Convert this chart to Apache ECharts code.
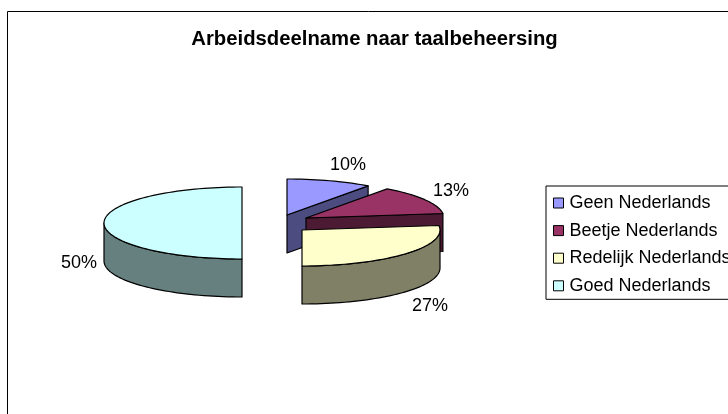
<!DOCTYPE html>
<html>
<head>
<meta charset="utf-8">
<style>html,body{margin:0;padding:0;background:#fff}#c{width:728px;height:414px}</style>
<script src="https://cdn.jsdelivr.net/npm/echarts@6/dist/echarts.min.js"></script>
</head>
<body>
<div id="c"></div>
<script>
const titleText = 'Arbeidsdeelname naar taalbeheersing';
const categories = ['Geen Nederlands', 'Beetje Nederlands', 'Redelijk Nederlands', 'Goed Nederlands'];
const shares = [10, 13, 27, 50];
const topColors = ['#9999FF', '#993366', '#FFFFCC', '#CCFFFF'];
const sideColors = ['#4C4C80', '#4D1A33', '#808066', '#668080'];

// Layout of the exploded 3D pie: centres of each slice, ellipse radii, wall depth, label anchors.
const sliceCentres = [[287, 215], [306, 218], [302, 230], [242, 223]];
const labelAnchors = [[348, 165], [451, 191], [430, 306], [79, 263]];
const RX = 138, RY = 36, DEPTH = 38;
const FONT = '"Liberation Sans", Arial, sans-serif';

const total = shares.reduce((a, b) => a + b, 0);
const startAngles = [];
shares.reduce((acc, v, i) => { startAngles[i] = acc; return acc + v / total * 360; }, 0);

function rim(c, deg, drop) {
  const r = deg * Math.PI / 180;
  return [c[0] + RX * Math.sin(r), c[1] - RY * Math.cos(r) + (drop || 0)];
}
function arc(c, a, b, drop) {
  const pts = [], n = Math.max(2, Math.ceil(Math.abs(b - a) / 2));
  for (let i = 0; i <= n; i++) pts.push(rim(c, a + (b - a) * i / n, drop));
  return pts;
}
function poly(points, fill) {
  return {
    type: 'polygon',
    shape: { points: points },
    style: { fill: fill, stroke: '#000', lineWidth: 1.2, lineJoin: 'round' }
  };
}
function sliceRenderer(i) {
  return function (params, api) {
    const c = sliceCentres[i];
    const a1 = startAngles[i];
    const a2 = a1 + api.value(0) / total * 360;
    const children = [];
    // cut face along the end edge, visible when it looks towards the viewer
    if (Math.sin(a2 * Math.PI / 180) > 1e-6) {
      const e = rim(c, a2);
      children.push(poly([c, e, [e[0], e[1] + DEPTH], [c[0], c[1] + DEPTH]], sideColors[i]));
    }
    // outer wall of the front half of the ellipse
    const f1 = Math.max(a1, 90), f2 = Math.min(a2, 270);
    if (f2 > f1) {
      children.push(poly(arc(c, f1, f2, 0).concat(arc(c, f2, f1, DEPTH)), sideColors[i]));
    }
    children.push(poly([c].concat(arc(c, a1, a2, 0)), topColors[i]));
    children.push({
      type: 'text',
      style: {
        x: labelAnchors[i][0], y: labelAnchors[i][1],
        text: api.value(0) + '%',
        fill: '#000', font: '18px ' + FONT, align: 'center', verticalAlign: 'middle'
      }
    });
    return { type: 'group', children: children };
  };
}

const chart = echarts.init(document.getElementById('c'), null, { renderer: 'canvas' });
chart.setOption({
  animation: false,
  backgroundColor: '#fff',
  title: {
    text: titleText, left: 369.5, top: 24, textAlign: 'center',
    textStyle: { fontFamily: FONT, fontSize: 20.3, fontWeight: 'bold', color: '#000' }
  },
  legend: {
    orient: 'vertical', left: 546, top: 186,
    padding: [8, 20, 4.5, 7],
    itemWidth: 10, itemHeight: 10, itemGap: 9.6,
    borderColor: '#000', borderWidth: 1, backgroundColor: '#fff',
    textStyle: { fontFamily: FONT, fontSize: 18, color: '#000', padding: [0, 0, 0, 1] },
    data: categories.map((name, i) => ({
      name: name, icon: 'rect',
      itemStyle: { color: topColors[i], borderColor: '#000', borderWidth: 1 }
    }))
  },
  graphic: [{
    type: 'rect', z: -1, silent: true,
    shape: { x: 7.5, y: 11.5, width: 760, height: 440 },
    style: { fill: 'none', stroke: '#000', lineWidth: 1 }
  }],
  // order matters: each slice paints over the one behind it
  series: categories.map((name, i) => ({
    type: 'custom', name: name, coordinateSystem: 'none',
    renderItem: sliceRenderer(i),
    data: [[shares[i]]],
    itemStyle: { color: topColors[i] },
    z: 2 + i
  }))
});
</script>
</body>
</html>
